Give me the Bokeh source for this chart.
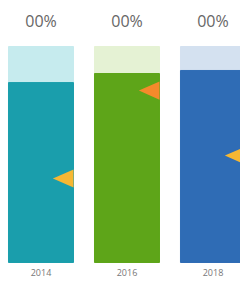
from bokeh.plotting import figure
from bokeh.models import ColumnDataSource, Range1d
from bokeh.core.properties import value
from bokeh.embed import file_html
from bokeh.resources import INLINE

years = ["2014", "2016", "2018"]
top_labels = ["00%", "00%", "00%"]
totals = [100, 100, 100]
actual = [83.3, 87.5, 88.9]
targets = [38.9, 79.6, 49.5]
dark_colors = ["#1a9eac", "#5ea519", "#2f6cb5"]
light_colors = ["#c6ebee", "#e5f2d4", "#d4e1f0"]
marker_colors = ["#f6b733", "#f58a2b", "#f6b733"]

xs = list(range(len(years)))
bar_w = 0.756
tri_w = 0.24
tri_h = 4.2

p = figure(width=240, height=285, output_backend="svg", toolbar_location=None,
           x_range=Range1d(-0.471, 2.32), y_range=Range1d(-10.65, 121.3),
           min_border=0, outline_line_color=None)
p.axis.visible = False
p.grid.visible = False

src = ColumnDataSource(dict(x=xs, total=totals, actual=actual,
                            dark=dark_colors, light=light_colors))
p.vbar(x="x", bottom="actual", top="total", width=bar_w, color="light", source=src)
p.vbar(x="x", bottom=0, top="actual", width=bar_w, color="dark", source=src)

tri_xs = [[x + bar_w / 2, x + bar_w / 2 - tri_w, x + bar_w / 2] for x in xs]
tri_ys = [[t + tri_h, t, t - tri_h] for t in targets]
p.patches(xs=tri_xs, ys=tri_ys, color=marker_colors, line_width=0)

p.text(x=xs, y=[111.6] * 3, text=top_labels, text_font=value("Open Sans"),
       text_font_size="16px", text_color="#666666", text_align="center",
       text_baseline="middle")
p.text(x=xs, y=[-4.6] * 3, text=years, text_font=value("Open Sans"),
       text_font_size="9px", text_color="#777777", text_align="center",
       text_baseline="middle")

open("out.html", "w").write(file_html(p, INLINE))
